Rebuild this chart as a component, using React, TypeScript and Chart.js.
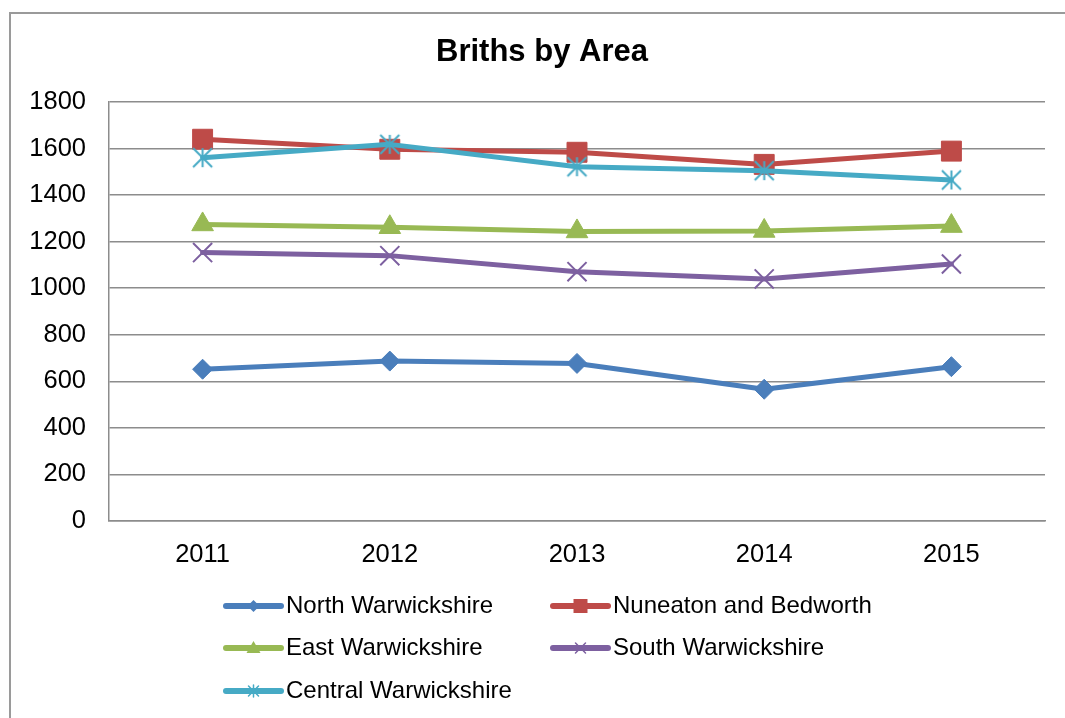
import React, { useEffect, useRef } from "react";
import { Chart, registerables } from "chart.js";

Chart.register(...registerables);

const TITLE = "Briths by Area";
const YEARS = ["2011", "2012", "2013", "2014", "2015"];
const SERIES_NAMES = [
  "North Warwickshire",
  "Nuneaton and Bedworth",
  "East Warwickshire",
  "South Warwickshire",
  "Central Warwickshire",
];
const NORTH = [652, 687, 677, 566, 663];
const NUNEATON = [1640, 1597, 1584, 1532, 1589];
const EAST = [1274, 1262, 1244, 1246, 1267];
const SOUTH = [1153, 1140, 1071, 1040, 1104];
const CENTRAL = [1561, 1618, 1522, 1505, 1465];
const Y_MIN = 0;
const Y_MAX = 1800;
const Y_STEP = 200;

const COLORS = ["#4A7EBB", "#BE4B48", "#98B954", "#7D60A0", "#46AAC5"];
const MARKERS = ["diamond", "square", "triangle", "x", "star"];
const FONT = "'Liberation Sans', Arial, Helvetica, sans-serif";

function makeStar(color: string, half: number, lw: number) {
  const size = Math.ceil(half * 2 + lw * 2);
  const c = document.createElement("canvas");
  c.width = size;
  c.height = size;
  const g = c.getContext("2d")!;
  const m = size / 2;
  g.strokeStyle = color;
  g.lineWidth = lw;
  g.lineCap = "butt";
  g.beginPath();
  g.moveTo(m, m - half);
  g.lineTo(m, m + half);
  g.moveTo(m - half, m - half);
  g.lineTo(m + half, m + half);
  g.moveTo(m + half, m - half);
  g.lineTo(m - half, m + half);
  g.stroke();
  return c;
}

function drawLegendMarker(ctx: CanvasRenderingContext2D, kind: string, x: number, y: number, color: string) {
  ctx.save();
  ctx.fillStyle = color;
  ctx.strokeStyle = color;
  ctx.beginPath();
  if (kind === "diamond") {
    const r = 6;
    ctx.moveTo(x - r, y);
    ctx.lineTo(x, y - r);
    ctx.lineTo(x + r, y);
    ctx.lineTo(x, y + r);
    ctx.closePath();
    ctx.fill();
  } else if (kind === "square") {
    const r = 7;
    ctx.rect(x - r, y - r, 2 * r, 2 * r);
    ctx.fill();
  } else if (kind === "triangle") {
    ctx.moveTo(x, y - 7);
    ctx.lineTo(x + 7, y + 5);
    ctx.lineTo(x - 7, y + 5);
    ctx.closePath();
    ctx.fill();
  } else if (kind === "x") {
    const r = 5;
    ctx.lineWidth = 1.5;
    ctx.moveTo(x - r, y - r);
    ctx.lineTo(x + r, y + r);
    ctx.moveTo(x + r, y - r);
    ctx.lineTo(x - r, y + r);
    ctx.stroke();
  } else if (kind === "star") {
    const r = 5;
    ctx.lineWidth = 1.5;
    ctx.moveTo(x, y - r - 1);
    ctx.lineTo(x, y + r + 1);
    ctx.moveTo(x - r, y - r);
    ctx.lineTo(x + r, y + r);
    ctx.moveTo(x + r, y - r);
    ctx.lineTo(x - r, y + r);
    ctx.stroke();
  }
  ctx.restore();
}

const overlayPlugin = {
  id: "overlay",
  afterDraw(chart: any) {
    const ctx: CanvasRenderingContext2D = chart.ctx;
    ctx.save();
    ctx.fillStyle = "#000";
    ctx.font = `bold 31px ${FONT}`;
    ctx.textAlign = "center";
    ctx.textBaseline = "middle";
    ctx.fillText(TITLE, 542, 52);

    const cols = [226, 553];
    const rows = [606, 648, 691];
    chart.data.datasets.forEach((ds: any, i: number) => {
      const x0 = cols[i % 2];
      const y = rows[Math.floor(i / 2)];
      const x1 = x0 + 55;
      ctx.strokeStyle = COLORS[i];
      ctx.lineWidth = 6;
      ctx.lineCap = "round";
      ctx.beginPath();
      ctx.moveTo(x0, y);
      ctx.lineTo(x1, y);
      ctx.stroke();
      drawLegendMarker(ctx, MARKERS[i], (x0 + x1) / 2, y, COLORS[i]);
      ctx.fillStyle = "#000";
      ctx.font = `24px ${FONT}`;
      ctx.textAlign = "left";
      ctx.textBaseline = "middle";
      ctx.fillText(ds.label, x1 + 5, y);
    });
    ctx.restore();
  },
};

export default function App() {
  const ref = useRef<HTMLCanvasElement | null>(null);

  useEffect(() => {
    if (!ref.current) return;
    const values = [NORTH, NUNEATON, EAST, SOUTH, CENTRAL];
    const starImg = makeStar(COLORS[4], 9.5, 2);
    const pointStyles: any[] = ["rectRot", "rect", "triangle", "crossRot", starImg];
    const radii = [10, 14.1, 12.5, 13.5, 10];
    const borderW = [1, 1, 1, 2, 2];

    const chart = new Chart(ref.current, {
      type: "line",
      data: {
        labels: YEARS,
        datasets: values.map((v, i) => ({
          label: SERIES_NAMES[i],
          data: v,
          borderColor: COLORS[i],
          backgroundColor: COLORS[i],
          borderWidth: 5,
          borderJoinStyle: "round" as const,
          borderCapStyle: "round" as const,
          tension: 0,
          pointStyle: pointStyles[i],
          pointRadius: radii[i],
          pointBorderWidth: borderW[i],
          pointBackgroundColor: COLORS[i],
          pointBorderColor: COLORS[i],
          order: 4 - i,
        })),
      },
      options: {
        responsive: false,
        animation: false,
        devicePixelRatio: 1,
        layout: { padding: { top: 102, left: 0, right: 20, bottom: 137 } },
        plugins: {
          legend: { display: false },
          title: { display: false },
          tooltip: { enabled: false },
        },
        scales: {
          x: {
            type: "category",
            offset: true,
            grid: { display: false, drawTicks: false },
            border: { display: true, color: "#8c8c8c", width: 1.5 },
            ticks: {
              color: "#000",
              font: { family: FONT, size: 25.5 },
              padding: 19,
              maxRotation: 0,
            },
            afterFit(scale: any) {
              scale.height = 60;
            },
          },
          y: {
            min: Y_MIN,
            max: Y_MAX,
            grid: { color: "#8c8c8c", lineWidth: 1.5, drawTicks: false },
            border: { display: true, color: "#8c8c8c", width: 1.5 },
            ticks: {
              stepSize: Y_STEP,
              color: "#000",
              font: { family: FONT, size: 25.5 },
              padding: 23,
              callback: (v: any) => String(v),
            },
            afterFit(scale: any) {
              scale.width = 109;
            },
          },
        },
      },
      plugins: [overlayPlugin],
    });
    return () => chart.destroy();
  }, []);

  return (
    <div style={{ position: "absolute", left: 0, top: 0, width: 1065, height: 718, background: "#fff", overflow: "hidden" }}>
      <div
        style={{
          position: "absolute",
          left: 9,
          top: 12,
          width: 1100,
          height: 800,
          border: "2px solid #9a9a9a",
          boxSizing: "border-box",
        }}
      />
      <canvas ref={ref} width={1065} height={718} style={{ position: "absolute", left: 0, top: 0, display: "block" }} />
    </div>
  );
}
